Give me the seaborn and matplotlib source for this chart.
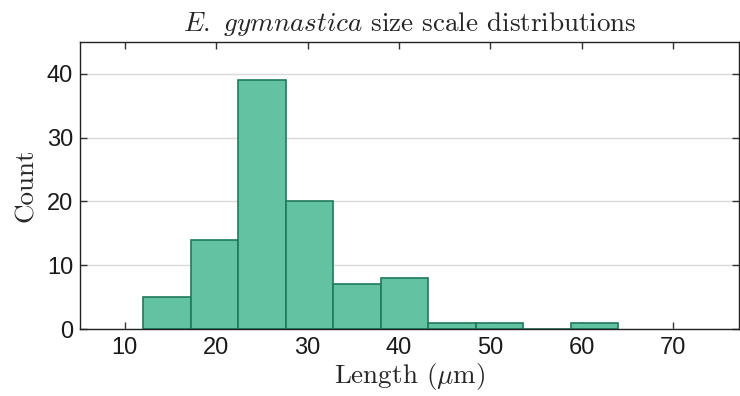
import matplotlib
matplotlib.use("Agg")
import matplotlib.pyplot as plt
import seaborn as sns
import numpy as np
import pandas as pd

# Data
bin_edges = [12.0, 17.2, 22.4, 27.6, 32.8, 38.0, 43.2, 48.4, 53.6, 58.8, 64.0]
counts = [5, 14, 39, 20, 7, 8, 1, 1, 0, 1]
x_ticks = [10, 20, 30, 40, 50, 60, 70]
y_ticks = [0, 10, 20, 30, 40]

centers = [(a + b) / 2 for a, b in zip(bin_edges[:-1], bin_edges[1:])]
df = pd.DataFrame({"length": centers, "count": counts})

sns.set_theme(style="white")
plt.rcParams["mathtext.fontset"] = "cm"
plt.rcParams["font.family"] = ["Liberation Sans", "DejaVu Sans"]

fig = plt.figure(figsize=(7.4, 3.96), dpi=100)
ax = fig.add_axes([80 / 740, 67 / 396, (739 - 80) / 740, (354 - 67) / 396])

sns.histplot(data=df, x="length", weights="count", bins=bin_edges, ax=ax,
             color="#62c2a2", edgecolor="#1f7a5c", linewidth=1.2, alpha=1.0)

ax.set_xlim(5.1, 77.2)
ax.set_ylim(0, 45)
ax.set_xticks(x_ticks)
ax.set_yticks(y_ticks)
ax.yaxis.grid(True, color="#d9d9d9", linewidth=1.0)
ax.xaxis.grid(False)
ax.set_axisbelow(True)

for s in ax.spines.values():
    s.set_visible(True)
    s.set_color("#222222")
    s.set_linewidth(1.0)

ax.tick_params(axis="both", direction="in", length=5, width=1.0, color="#333333",
               labelsize=17, labelcolor="#1a1a1a", top=True, right=True,
               bottom=True, left=True)
ax.tick_params(axis="x", pad=6)
ax.tick_params(axis="y", pad=5)

ax.set_xlabel(r"Length ($\mu$m)", fontfamily="cmr10", fontsize=19.5, labelpad=1)
ax.set_ylabel("Count", fontfamily="cmr10", fontsize=19.5, labelpad=6)
ax.set_title(r"$\mathit{E.\ gymnastica}$ size scale distributions",
             fontfamily="cmr10", fontsize=19.5, pad=8)

fig.savefig("out.png", dpi=100)
